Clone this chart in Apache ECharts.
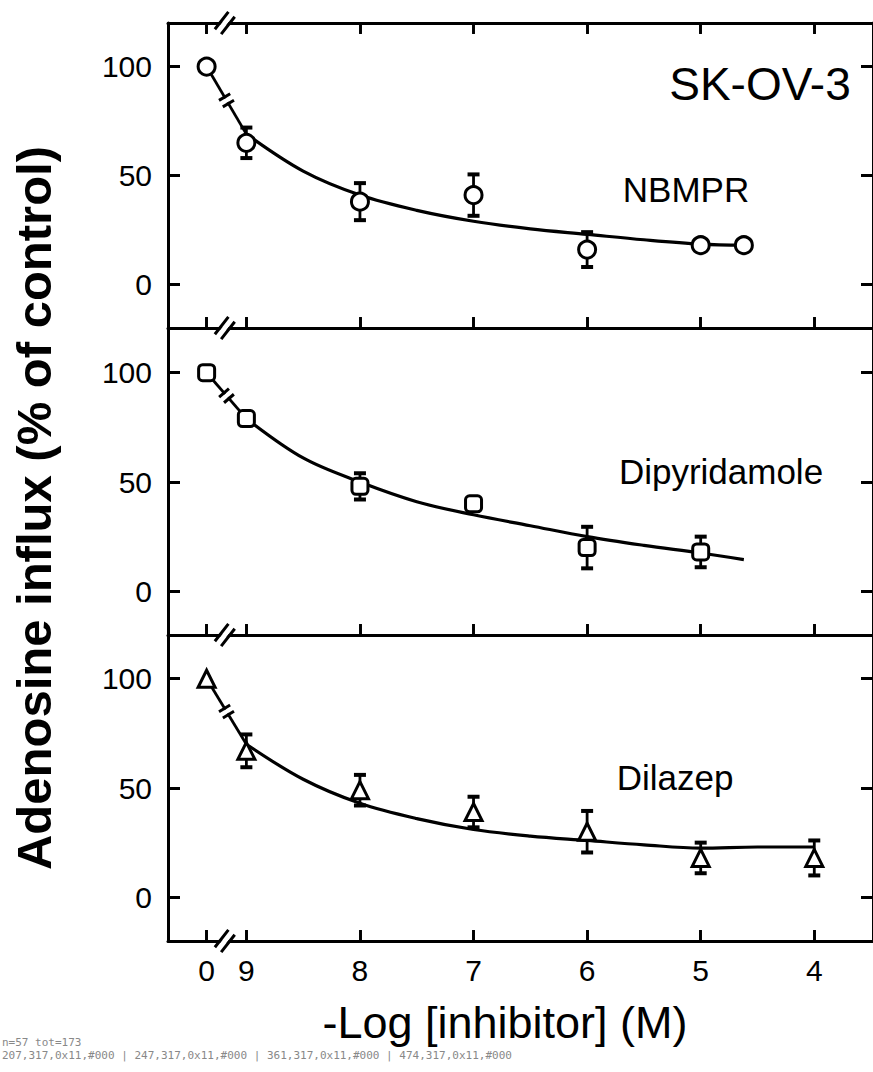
<!DOCTYPE html>
<html><head><meta charset="utf-8">
<script src="https://cdn.jsdelivr.net/npm/echarts@6/dist/echarts.min.js"></script>
<style>html,body{margin:0;padding:0;background:#fff}#chart{width:873px;height:1072px}#dbg{position:absolute;left:2px;top:1036px;font:11px monospace;color:#888;white-space:pre}</style>
</head><body><div id="chart"></div><div id="dbg"></div>
<script>
// ---------- axis definitions (values are -log[inhibitor]; axis runs high -> low) ----------
const CTRL_POS = 9.35;              // where the "0" (control) tick sits, left of the axis break
const BREAK_POS = 9.19;             // axis break between "0" and "9"
const xAxisLeft = 9.69, xAxisRight = 3.483;
const xTickValues = [CTRL_POS, 9, 8, 7, 6, 5, 4];
const xTickLabels = ['0', '9', '8', '7', '6', '5', '4'];
const yMin = -20, yMax = 120;
const yTickValues = [0, 50, 100];

// ---------- data ----------
const panelNames = ['NBMPR', 'Dipyridamole', 'Dilazep'];
const controlValue = 100;

const nbmprX    = [9, 8, 7, 6, 5, 4.62];
const nbmprMean = [65, 38, 41, 16, 18, 18];
const nbmprErr  = [7, 8.5, 9.5, 8, 0, 0];
const nbmprFitX = [9, 8.5, 8, 7.5, 7, 6.5, 6, 5.5, 5, 4.62];
const nbmprFitY = [69, 52, 41, 34, 29, 25.5, 23, 20.5, 18.5, 18];

const dipyX    = [9, 8, 7, 6, 5];
const dipyMean = [79, 48, 40, 20, 18];
const dipyErr  = [0, 6, 3, 9.5, 7];
const dipyFitX = [9, 8.5, 8, 7.5, 7, 6.5, 6, 5.5, 5, 4.62];
const dipyFitY = [79, 61, 50, 41, 35, 30, 25, 21, 17.5, 14.5];

const dilaX    = [9, 8, 7, 6, 5, 4];
const dilaMean = [67, 49, 39, 30, 18, 18];
const dilaErr  = [7.5, 7, 7, 9.5, 7, 8];
const dilaFitX = [9, 8.5, 8, 7.5, 7, 6.5, 6, 5.5, 5, 4.5, 4];
const dilaFitY = [70, 54, 43, 36, 31, 28, 26, 24, 22.5, 23, 23];

// the axis is drawn left-to-right in decreasing -log units: plot at coordinate -v
const P = v => -v;

// ---------- layout / style ----------
const FONT = '"Liberation Sans", Arial, Helvetica, sans-serif';
const gridTops = [23, 329, 635];
const gridHeights = [305, 306, 306];
const panels = [
  {x: nbmprX, mean: nbmprMean, err: nbmprErr, fitX: nbmprFitX, fitY: nbmprFitY, symbol: 'circle', size: 17, label: [686, 189]},
  {x: dipyX, mean: dipyMean, err: dipyErr, fitX: dipyFitX, fitY: dipyFitY, symbol: 'roundRect', size: 16, label: [721, 471]},
  {x: dilaX, mean: dilaMean, err: dilaErr, fitX: dilaFitX, fitY: dilaFitY, symbol: 'triangle', size: 17, label: [675, 777]}
];
const TICK_UNITS = 5;   // inward tick length, in y units (about 11 px)

const AXIS_SLASH = 'path://M0,0L22,0L22,3L0,3Z M0,8L22,8L22,11L0,11Z';
const CONN_SLASH = 'path://M0,0L13,0L13,3L0,3Z M0,7.5L13,7.5L13,10.5L0,10.5Z';

const grids = gridTops.map((t, i) => ({left: 168, width: 709, top: t, height: gridHeights[i]}));
const xTickCoords = xTickValues.map(P);

function xAxisCfg(gi, pos, showLabel) {
  return {
    type: 'value', gridIndex: gi, position: pos, min: P(xAxisLeft), max: P(xAxisRight),
    axisLine: {show: true, onZero: false, lineStyle: {color: '#000', width: 3}},
    axisTick: {show: true, inside: true, length: 11, customValues: xTickCoords, lineStyle: {color: '#000', width: 2.5}},
    axisLabel: {show: showLabel, customValues: xTickCoords, margin: 14, color: '#000', fontSize: 30, fontFamily: FONT,
      formatter: v => { const k = xTickCoords.findIndex(t => Math.abs(t - v) < 1e-6); return k >= 0 ? xTickLabels[k] : ''; }},
    splitLine: {show: false}
  };
}
function yAxisCfg(gi, pos, showLabel) {
  return {
    type: 'value', gridIndex: gi, position: pos, min: yMin, max: yMax,
    axisLine: {show: true, onZero: false, lineStyle: {color: '#000', width: 3}},
    axisTick: {show: true, inside: true, length: 12, customValues: yTickValues, lineStyle: {color: '#000', width: 3}},
    axisLabel: {show: showLabel, customValues: yTickValues, margin: 16, color: '#000', fontSize: 30, fontFamily: FONT},
    splitLine: {show: false}
  };
}

const xAxes = [xAxisCfg(0, 'bottom', false), xAxisCfg(1, 'bottom', false), xAxisCfg(2, 'bottom', true), xAxisCfg(0, 'top', false)];
const yAxes = [yAxisCfg(0, 'left', true), yAxisCfg(1, 'left', true), yAxisCfg(2, 'left', true),
               yAxisCfg(0, 'right', false), yAxisCfg(1, 'right', false), yAxisCfg(2, 'right', false)];

function tickPairs(i) {
  const pairs = xTickCoords.map(v => [{coord: [v, yMin]}, {coord: [v, yMin + TICK_UNITS]}]);
  if (i === 0) xTickCoords.forEach(v => pairs.push([{coord: [v, yMax]}, {coord: [v, yMax - TICK_UNITS]}]));
  return pairs;
}

const series = [];
panels.forEach((p, i) => {
  const ax = {xAxisIndex: i, yAxisIndex: i};
  // fitted curve (its markLine draws the inward x tick marks of the frame)
  series.push(Object.assign({
    type: 'line', smooth: 0.35, showSymbol: false, silent: true, z: 2,
    data: p.fitX.map((x, k) => [P(x), p.fitY[k]]),
    lineStyle: {color: '#000', width: 3.2},
    markLine: {silent: true, symbol: ['none', 'none'], label: {show: false}, animation: false,
      lineStyle: {color: '#000', width: 2.8, type: 'solid', opacity: 1}, emphasis: {disabled: true},
      data: tickPairs(i)}
  }, ax));
  // connector from control to first concentration
  const c0 = [P(CTRL_POS), controlValue], c1 = [P(p.fitX[0]), p.fitY[0]];
  series.push(Object.assign({
    type: 'line', showSymbol: false, silent: true, z: 2, data: [c0, c1],
    lineStyle: {color: '#000', width: 2.8}
  }, ax));
  const mid = [(c0[0] + c1[0]) / 2, (c0[1] + c1[1]) / 2];
  series.push(Object.assign({
    id: 'conn-gap-' + i, type: 'scatter', silent: true, z: 3, clip: false, data: [mid],
    symbol: 'rect', symbolSize: [14, 4.5], itemStyle: {color: '#fff', opacity: 1}
  }, ax));
  series.push(Object.assign({
    id: 'conn-slash-' + i, type: 'scatter', silent: true, z: 4, clip: false, data: [mid],
    symbol: CONN_SLASH, symbolSize: [13, 10.5], itemStyle: {color: '#000', opacity: 1}
  }, ax));
  // error bars
  const eb = [];
  p.x.forEach((x, k) => { if (p.err[k] > 0) eb.push([P(x), p.mean[k] - p.err[k], p.mean[k] + p.err[k]]); });
  series.push(Object.assign({
    type: 'custom', silent: true, z: 4, data: eb, encode: {x: 0, y: [1, 2]},
    renderItem: (params, api) => {
      const x = api.value(0);
      const lo = api.coord([x, api.value(1)]), hi = api.coord([x, api.value(2)]);
      const w = 6;
      return {type: 'group', children: [
        {type: 'line', shape: {x1: lo[0], y1: lo[1], x2: hi[0], y2: hi[1]}, style: {stroke: '#000', lineWidth: 2.8}},
        {type: 'line', shape: {x1: hi[0] - w, y1: hi[1], x2: hi[0] + w, y2: hi[1]}, style: {stroke: '#000', lineWidth: 4}},
        {type: 'line', shape: {x1: lo[0] - w, y1: lo[1], x2: lo[0] + w, y2: lo[1]}, style: {stroke: '#000', lineWidth: 4}}
      ]};
    }
  }, ax));
  // markers
  series.push(Object.assign({
    type: 'scatter', silent: true, z: 5,
    data: [[P(CTRL_POS), controlValue]].concat(p.x.map((x, k) => [P(x), p.mean[k]])),
    symbol: p.symbol, symbolSize: p.size,
    itemStyle: {color: '#fff', borderColor: '#000', borderWidth: 3, opacity: 1}
  }, ax));
  // axis break marks
  const brk = [[P(BREAK_POS), yMin]];
  if (i === 0) brk.push([P(BREAK_POS), yMax]);
  series.push(Object.assign({
    type: 'scatter', silent: true, z: 6, clip: false, data: brk,
    symbol: 'rect', symbolSize: [26, 5], symbolRotate: 52, itemStyle: {color: '#fff', opacity: 1}
  }, ax));
  series.push(Object.assign({
    type: 'scatter', silent: true, z: 7, clip: false, data: brk,
    symbol: AXIS_SLASH, symbolSize: [22, 11], symbolRotate: 52, itemStyle: {color: '#000', opacity: 1}
  }, ax));
});

const graphics = [
  {type: 'text', x: 760, y: 84, style: {text: 'SK-OV-3', font: `46px ${FONT}`, fill: '#000', align: 'center', verticalAlign: 'middle', textAlign: 'center', textVerticalAlign: 'middle'}},
  {type: 'text', x: 34, y: 508, rotation: Math.PI / 2, style: {text: 'Adenosine influx (% of control)', font: `bold 49px ${FONT}`, fill: '#000', align: 'center', verticalAlign: 'middle', textAlign: 'center', textVerticalAlign: 'middle'}},
  {type: 'text', x: 505, y: 1022, style: {text: '-Log [inhibitor] (M)', font: `45px ${FONT}`, fill: '#000', align: 'center', verticalAlign: 'middle', textAlign: 'center', textVerticalAlign: 'middle'}}
];
panels.forEach((p, i) => graphics.push({type: 'text', x: p.label[0], y: p.label[1],
  style: {text: panelNames[i], font: `35px ${FONT}`, fill: '#000', align: 'center', verticalAlign: 'middle', textAlign: 'center', textVerticalAlign: 'middle'}}));

const chart = echarts.init(document.getElementById('chart'), null, {renderer: 'svg'});
chart.setOption({
  animation: false, backgroundColor: '#fff',
  grid: grids, xAxis: xAxes, yAxis: yAxes, series: series, graphic: graphics
});

// orient the break marks on each control connector perpendicular to it
const upd = [];
panels.forEach((p, i) => {
  const a = chart.convertToPixel({xAxisIndex: i, yAxisIndex: i}, [P(CTRL_POS), controlValue]);
  const b = chart.convertToPixel({xAxisIndex: i, yAxisIndex: i}, [P(p.fitX[0]), p.fitY[0]]);
  const ang = Math.atan2(b[1] - a[1], b[0] - a[0]) * 180 / Math.PI;
  const rot = 90 - ang;
  upd.push({id: 'conn-gap-' + i, symbolRotate: rot});
  upd.push({id: 'conn-slash-' + i, symbolRotate: rot});
});
chart.setOption({series: upd});

// small diagnostic: vertical short elements near the frame edges
try {
  const svg = document.querySelector('#chart svg');
  const els = svg ? svg.querySelectorAll('path,line,rect') : [];
  let n = 0, s = [];
  els.forEach(el => { const r = el.getBoundingClientRect();
    if (r.width < 7 && r.height > 6 && r.height < 16) { n++; if (s.length < 4) s.push(Math.round(r.x) + ',' + Math.round(r.y) + ',' + Math.round(r.width) + 'x' + Math.round(r.height) + ',' + (el.getAttribute('stroke') || el.getAttribute('fill'))); } });
  document.getElementById('dbg').textContent = 'n=' + n + ' tot=' + els.length + '\n' + s.join(' | ');
} catch (e) { document.getElementById('dbg').textContent = 'err ' + e.message; }
</script>
</body></html>
